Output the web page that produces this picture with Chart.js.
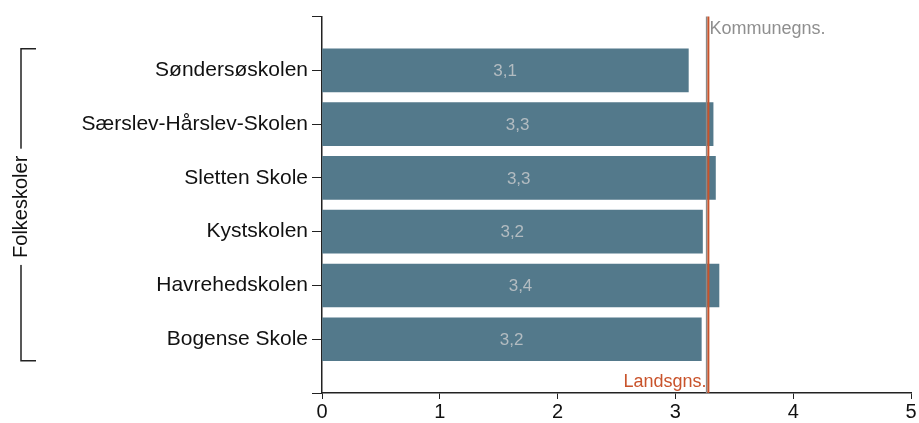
<!DOCTYPE html>
<html>
<head>
<meta charset="utf-8">
<script src="https://cdn.jsdelivr.net/npm/chart.js@4.4.0/dist/chart.umd.min.js"></script>
<style>
  body { margin: 0; background: #fff; }
  #wrap { width: 919px; height: 423px; }
</style>
</head>
<body>
<div id="wrap"><canvas id="gSkoler" width="919" height="423"></canvas></div>
<script>
// Data
const skoler = ['Søndersøskolen', 'Særslev-Hårslev-Skolen', 'Sletten Skole', 'Kystskolen', 'Havrehedskolen', 'Bogense Skole'];
const gennemsnit = [3.11, 3.32, 3.34, 3.23, 3.37, 3.22];
const kommuneGns = 3.265;
const landsGns = 3.28;
const xTicks = [0, 1, 2, 3, 4, 5];
const gruppeNavn = 'Folkeskoler';

const fontNavn = '"Liberation Sans", Arial, sans-serif';
const barFarve = '#53798b';
const tykkelse = 43;

// tom plads over og under bjælkerne
const labelsMedPlads = [''].concat(skoler, ['']);
const dataMedPlads = [null].concat(gennemsnit, [null]);

const ekstraTegning = {
  id: 'ekstraTegning',
  afterDatasetsDraw(chart) {
    const ctx = chart.ctx;
    const xs = chart.scales.x;
    const ys = chart.scales.y;
    const area = chart.chartArea;

    // værdier i bjælkerne
    ctx.save();
    ctx.font = '17px ' + fontNavn;
    ctx.fillStyle = '#b3bcc1';
    ctx.textAlign = 'center';
    ctx.textBaseline = 'middle';
    gennemsnit.forEach((v, i) => {
      const x0 = xs.getPixelForValue(0);
      const x1 = xs.getPixelForValue(v);
      const y = ys.getPixelForValue(i + 1);
      ctx.fillText(v.toFixed(1).replace('.', ','), (x0 + x1) / 2, y + 1);
    });

    // gennemsnitslinjer
    const xK = xs.getPixelForValue(kommuneGns);
    const xL = xs.getPixelForValue(landsGns);
    ctx.lineWidth = 1.5;
    ctx.strokeStyle = '#8a8a8a';
    ctx.beginPath();
    ctx.moveTo(xK, area.top);
    ctx.lineTo(xK, area.bottom);
    ctx.stroke();
    ctx.lineWidth = 2;
    ctx.strokeStyle = '#c9532b';
    ctx.beginPath();
    ctx.moveTo(xL, area.top);
    ctx.lineTo(xL, area.bottom);
    ctx.stroke();

    ctx.font = '18px ' + fontNavn;
    ctx.textBaseline = 'middle';
    ctx.fillStyle = '#8f8f8f';
    ctx.textAlign = 'left';
    ctx.fillText('Kommunegns.', xL + 1, area.top + 12);
    ctx.fillStyle = '#c9532b';
    ctx.textAlign = 'right';
    ctx.fillText('Landsgns.', xK, area.bottom - 11);

    // klamme for gruppen
    const top = ys.getPixelForValue(1) - tykkelse / 2;
    const bund = ys.getPixelForValue(skoler.length) + tykkelse / 2;
    const bx = 21;
    ctx.strokeStyle = '#222';
    ctx.lineWidth = 1.5;
    ctx.beginPath();
    ctx.moveTo(bx + 15, top);
    ctx.lineTo(bx, top);
    ctx.lineTo(bx, bund);
    ctx.lineTo(bx + 15, bund);
    ctx.stroke();

    ctx.translate(bx, (top + bund) / 2 + 2);
    ctx.rotate(-Math.PI / 2);
    ctx.font = '20px ' + fontNavn;
    const w = ctx.measureText(gruppeNavn).width;
    ctx.fillStyle = '#fff';
    ctx.fillRect(-w / 2 - 7, -10, w + 14, 20);
    ctx.fillStyle = '#111';
    ctx.textAlign = 'center';
    ctx.textBaseline = 'middle';
    ctx.fillText(gruppeNavn, 0, 0);
    ctx.restore();
  }
};

const ctxSkoler = document.getElementById('gSkoler').getContext('2d');
const myChartSkoler = new Chart(ctxSkoler, {
  type: 'bar',
  data: {
    labels: labelsMedPlads,
    datasets: [{
      data: dataMedPlads,
      backgroundColor: barFarve,
      borderWidth: 0,
      barThickness: tykkelse
    }]
  },
  options: {
    indexAxis: 'y',
    responsive: false,
    animation: false,
    layout: { padding: { top: 14, right: 8, left: 0, bottom: 0 } },
    plugins: {
      legend: { display: false },
      tooltip: { enabled: false }
    },
    scales: {
      x: {
        min: 0,
        max: 5,
        afterBuildTicks: function (axis) {
          axis.ticks = xTicks.map(v => ({ value: v }));
        },
        afterFit: function (axis) { axis.height = 30; },
        grid: { drawOnChartArea: false, drawTicks: true, tickLength: 6, color: '#222' },
        border: { display: true, color: '#222', width: 1.5 },
        ticks: { color: '#111', padding: 1, font: { family: fontNavn, size: 20 } }
      },
      y: {
        offset: false,
        afterFit: function (axis) { axis.width = 322; },
        grid: { offset: false, drawOnChartArea: false, drawTicks: true, tickLength: 10, color: '#222' },
        border: { display: true, color: '#222', width: 1.5 },
        ticks: { color: '#111', padding: 4, autoSkip: false, font: { family: fontNavn, size: 21 } }
      }
    }
  },
  plugins: [ekstraTegning]
});
</script>
</body>
</html>
